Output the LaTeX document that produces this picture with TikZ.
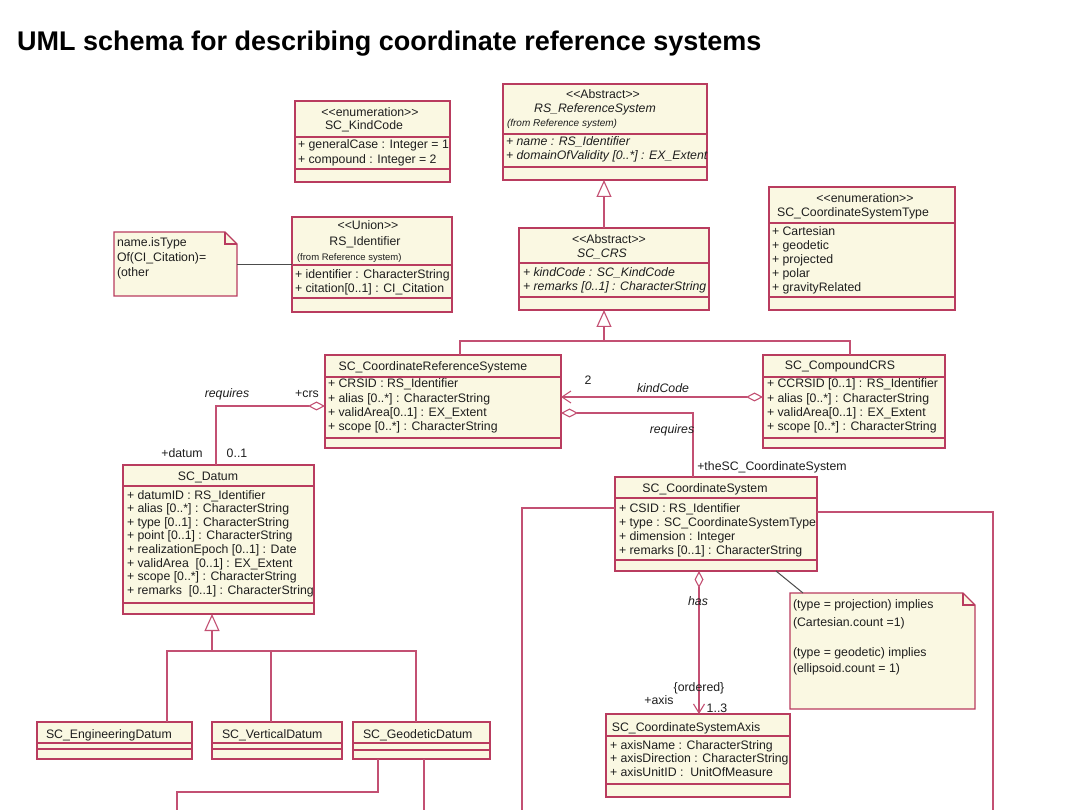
\documentclass[tikz,border=0pt]{standalone}
\usepackage{fontspec}
\setmainfont{Liberation Sans}
\usetikzlibrary{arrows.meta}
\definecolor{cream}{RGB}{250,248,226}
\definecolor{edge}{RGB}{185,60,95}
\definecolor{wire}{RGB}{195,80,115}
\definecolor{ink}{RGB}{30,30,30}
\tikzset{
  classbox/.style={draw=edge, fill=cream, line width=1.1pt, inner sep=0pt, outer sep=0pt, anchor=north west, rectangle},
  sepline/.style={draw=edge, line width=1.1pt},
  notebase/.style={inner sep=0pt, outer sep=0pt, anchor=north west, rectangle},
  txt/.style={inner sep=0pt, outer sep=0pt, font=\fontsize{12.3}{14}\selectfont, text=ink},
  small/.style={font=\fontsize{9.5}{11}\selectfont},
  ital/.style={font=\fontsize{12.3}{14}\selectfont\itshape},
  wireline/.style={draw=wire, line width=1.1pt},
  noteline/.style={draw=black!70, line width=1pt},
  gentip/.style={-{Triangle[open,length=17pt,width=15pt]}},
  agg/.style={{Diamond[open,length=17pt,width=9pt]}-},
}
\newcommand\ubox[7]{%
  \node[classbox, minimum width={#4-#2}, minimum height={#5-#3}] (#1) at (#2,#3) {};
  \draw[sepline] (#2,#6) -- (#4,#6);
  \draw[sepline] (#2,#7) -- (#4,#7);}
\newcommand\unote[5]{%
  \node[notebase, minimum width={#4-#2}, minimum height={#5-#3}] (#1) at (#2,#3) {};
  \draw[sepline, fill=cream] (#1.south west) -- (#1.north west) -- ([xshift=-12pt]#1.north east) -- ([yshift=-12pt]#1.north east) -- (#1.south east) -- cycle;
  \draw[sepline] ([xshift=-12pt]#1.north east) -- ([xshift=-12pt,yshift=-12pt]#1.north east) -- ([yshift=-12pt]#1.north east);}
\newcommand\tlines[6]{%
  \foreach \lineitem [count=\i] in {#6} {\node[txt,#2,anchor=base west] (#1\i) at (#3,{#4+#5*(\i-1)}) {\lineitem};}}
\begin{document}
\begin{tikzpicture}[x=1pt,y=-1pt]
\useasboundingbox[fill=white] (0,0) rectangle (1080,810);
\node[anchor=base west, inner sep=0pt, font=\bfseries\fontsize{27}{30}\selectfont] (title) at (17,51) {UML schema for describing coordinate reference systems};

% ---- boxes
\ubox{kindcode}{295}{101}{450}{182}{137}{169}
\node[txt,anchor=base] (kcS) at (370,117) {<{}<enumeration>{}>};
\node[txt,anchor=base] (kcN) at (364,130) {SC\_KindCode};
\tlines{kcA}{}{298}{149}{14.5}{{+ generalCase : Integer = 1},{+ compound : Integer = 2}}

\ubox{rsref}{503}{84}{707}{180}{134}{167}
\node[txt,anchor=base] (rsS) at (603,99) {<{}<Abstract>{}>};
\node[txt,ital,anchor=base] (rsN) at (595,113) {RS\_ReferenceSystem};
\node[txt,small,anchor=base west,font=\itshape] (rsF) at (507,127) {(from Reference system)};
\tlines{rsA}{ital}{506}{146}{14}{{+ name : RS\_Identifier},{+ domainOfValidity [0..*] : EX\_Extent}}

\ubox{sccrs}{519}{228}{709}{310}{263}{297}
\node[txt,anchor=base] (ccS) at (609,244) {<{}<Abstract>{}>};
\node[txt,ital,anchor=base] (ccN) at (602,258) {SC\_CRS};
\tlines{ccA}{ital}{523}{277}{14}{{+ kindCode : SC\_KindCode},{+ remarks [0..1] : CharacterString}}

\ubox{cstype}{769}{187}{955}{310}{223}{297}
\node[txt,anchor=base] (ctS) at (865,203) {<{}<enumeration>{}>};
\node[txt,anchor=base] (ctN) at (853,217) {SC\_CoordinateSystemType};
\tlines{ctA}{}{772}{236}{14}{{+ Cartesian},{+ geodetic},{+ projected},{+ polar},{+ gravityRelated}}

\unote{note1}{114}{232}{237}{296}
\tlines{n1T}{}{117}{247}{15}{{name.isType},{Of(CI\_Citation)=},{(other}}

\ubox{rsid}{292}{217}{452}{312}{265}{298}
\node[txt,anchor=base] (riS) at (368,230) {<{}<Union>{}>};
\node[txt,anchor=base] (riN) at (365,246) {RS\_Identifier};
\node[txt,small,anchor=base west] (riF) at (297,261) {(from Reference system)};
\tlines{riA}{}{295}{279}{14}{{+ identifier : CharacterString},{+ citation[0..1] : CI\_Citation}}

\ubox{crsys}{325}{355}{561}{448}{377}{438}
\node[txt,anchor=base] (crN) at (433,371) {SC\_CoordinateReferenceSysteme};
\tlines{crA}{}{328}{388}{14.3}{{+ CRSID : RS\_Identifier},{+ alias [0..*] : CharacterString},{+ validArea[0..1] : EX\_Extent},{+ scope [0..*] : CharacterString}}

\ubox{ccrs}{763}{355}{945}{448}{377}{438}
\node[txt,anchor=base] (cpN) at (840,370) {SC\_CompoundCRS};
\tlines{cpA}{}{767}{388}{14.3}{{+ CCRSID [0..1] : RS\_Identifier},{+ alias [0..*] : CharacterString},{+ validArea[0..1] : EX\_Extent},{+ scope [0..*] : CharacterString}}

\ubox{datum}{123}{465}{314}{614}{486}{603}
\node[txt,anchor=base] (daN) at (208,480) {SC\_Datum};
\tlines{daA}{}{127}{499}{13.6}{{+ datumID : RS\_Identifier},{+ alias [0..*] : CharacterString},{+ type [0..1] : CharacterString},{+ point [0..1] : CharacterString},{+ realizationEpoch [0..1] : Date},{+ validArea~ [0..1] : EX\_Extent},{+ scope [0..*] : CharacterString},{+ remarks~ [0..1] : CharacterString}}

\ubox{cs}{615}{477}{817}{571}{498}{560}
\node[txt,anchor=base] (csN) at (705,493) {SC\_CoordinateSystem};
\tlines{csA}{}{619}{512}{14}{{+ CSID : RS\_Identifier},{+ type : SC\_CoordinateSystemType},{+ dimension : Integer},{+ remarks [0..1] : CharacterString}}

\ubox{axis}{606}{714}{790}{797}{736}{784}
\node[txt,anchor=base] (axN) at (686,731) {SC\_CoordinateSystemAxis};
\tlines{axA}{}{610}{749}{13.5}{{+ axisName : CharacterString},{+ axisDirection : CharacterString},{+ axisUnitID :~ UnitOfMeasure}}

\unote{note2}{790}{593}{975}{709}
\node[txt,anchor=base west] (n2T1) at (793,608) {(type = projection) implies};
\node[txt,anchor=base west] (n2T2) at (793,626) {(Cartesian.count =1)};
\node[txt,anchor=base west] (n2T3) at (793,656) {(type = geodetic) implies};
\node[txt,anchor=base west] (n2T4) at (793,672) {(ellipsoid.count = 1)};

\ubox{eng}{37}{722}{192}{759}{743}{749}
\node[txt,anchor=base west] (enN) at (46,738) {SC\_EngineeringDatum};
\ubox{vert}{212}{722}{342}{759}{743}{749}
\node[txt,anchor=base west] (veN) at (222,738) {SC\_VerticalDatum};
\ubox{geo}{353}{722}{490}{759}{743}{750}
\node[txt,anchor=base west] (geN) at (363,738) {SC\_GeodeticDatum};

% ---- connectors
\coordinate (g1) at (604,0);
\draw[wireline,gentip] (sccrs.north -| g1) -- (rsref.south -| g1);

\coordinate (g2) at (604,341);
\coordinate (g2l) at (460,341);
\coordinate (g2r) at (850,341);
\draw[wireline] (g2l |- crsys.north) -- (g2l) -- (g2r) -- (g2r |- ccrs.north);
\draw[wireline,gentip] (g2) -- (sccrs.south -| g2);

\coordinate (g3) at (212,651);
\coordinate (g3a) at (167,651);
\coordinate (g3b) at (271,651);
\coordinate (g3c) at (416,651);
\draw[wireline] (g3a |- eng.north) -- (g3a) -- (g3c) -- (g3c |- geo.north);
\draw[wireline] (g3b) -- (g3b |- vert.north);
\draw[wireline,gentip] (g3) -- (datum.south -| g3);

\coordinate (a1) at (216,406);
\draw[wireline,agg] (crsys.west |- a1) -- (a1) -- (a1 |- datum.north);
\coordinate (a2) at (693,413);
\draw[wireline,agg] (crsys.east |- a2) -- (a2) -- (a2 |- cs.north);
\coordinate (a3) at (0,397);
\draw[wireline,{Straight Barb[length=9pt,width=12pt]}-{Diamond[open,length=17pt,width=9pt]}] (crsys.east |- a3) -- (ccrs.west |- a3);
\coordinate (a4) at (699,0);
\draw[wireline,{Diamond[open,length=17pt,width=9pt]}-{Straight Barb[length=9pt,width=11pt]}] (cs.south -| a4) -- (axis.north -| a4);

\coordinate (n1) at (0,265);
\draw[noteline] (note1.east |- n1) -- (rsid.west |- n1);
\coordinate (n2a) at (776,0);
\coordinate (n2b) at (803,0);
\draw[noteline] (cs.south -| n2a) -- (note2.north -| n2b);

\coordinate (o1) at (522,508);
\coordinate (o1e) at (522,810);
\draw[wireline] (cs.west |- o1) -- (o1) -- (o1e);
\coordinate (o2) at (993,512);
\coordinate (o2e) at (993,810);
\draw[wireline] (cs.east |- o2) -- (o2) -- (o2e);

\coordinate (p1) at (378,792);
\coordinate (p2) at (177,792);
\coordinate (p3) at (177,810);
\coordinate (p4) at (424,810);
\draw[wireline] (geo.south -| p1) -- (p1) -- (p2) -- (p3);
\draw[wireline] (geo.south -| p4) -- (p4);

% ---- labels
\node[txt,ital,anchor=base] (l1) at (227,398) {requires};
\node[txt,anchor=base] (l2) at (307,398) {+crs};
\node[txt,anchor=base] (l3) at (182,457) {+datum};
\node[txt,anchor=base] (l4) at (237,457) {0..1};
\node[txt,anchor=base] (l5) at (588,385) {2};
\node[txt,ital,anchor=base] (l6) at (663,393) {kindCode};
\node[txt,ital,anchor=base] (l7) at (672,434) {requires};
\node[txt,anchor=base] (l8) at (772,471) {+theSC\_CoordinateSystem};
\node[txt,ital,anchor=base] (l9) at (698,605) {has};
\node[txt,anchor=base] (l10) at (699,691) {\{ordered\}};
\node[txt,anchor=base] (l11) at (659,704) {+axis};
\node[txt,anchor=base] (l12) at (717,712) {1..3};
\end{tikzpicture}
\end{document}
